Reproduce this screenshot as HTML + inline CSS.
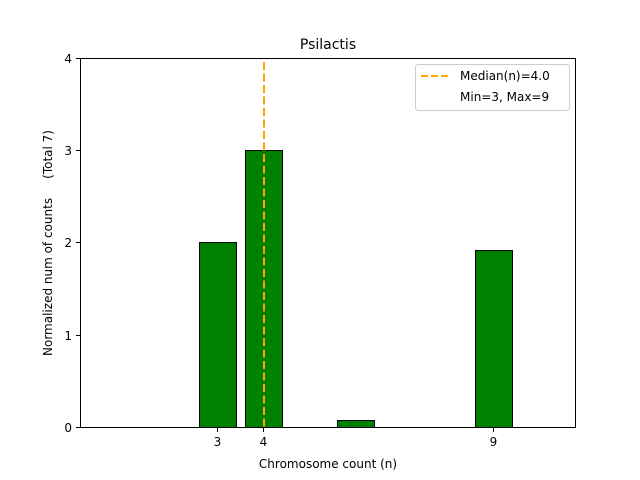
<!DOCTYPE html>
<html><head><meta charset="utf-8"><style>body{margin:0;background:#fff}svg{display:block}text{font-family:"DejaVu Sans","Liberation Sans",sans-serif;fill:#000}</style></head>
<body>
<svg width="640" height="480" viewBox="0 0 640 480">
<rect width="640" height="480" fill="#fff"/>
<g stroke="#000" stroke-width="1">
<rect x="199.5" y="242.5" width="37" height="185" fill="#008000"/>
<rect x="245.5" y="150.5" width="37" height="277" fill="#008000"/>
<rect x="337.5" y="420.5" width="37" height="7" fill="#008000"/>
<rect x="475.5" y="250.5" width="37" height="177" fill="#008000"/>
</g>
<line x1="264" y1="62" x2="264" y2="427" stroke="#ffa500" stroke-width="2" stroke-dasharray="8,3.5"/>
<rect x="80.5" y="58.5" width="495" height="369" fill="none" stroke="#000" stroke-width="1"/>
<g stroke="#000">
<line x1="76" y1="427.5" x2="80" y2="427.5"/><line x1="76" y1="335.5" x2="80" y2="335.5"/>
<line x1="76" y1="242.5" x2="80" y2="242.5"/><line x1="76" y1="150.5" x2="80" y2="150.5"/>
<line x1="76" y1="58.5" x2="80" y2="58.5"/>
<line x1="217.5" y1="428" x2="217.5" y2="432"/><line x1="263.5" y1="428" x2="263.5" y2="432"/>
<line x1="493.5" y1="428" x2="493.5" y2="432"/>
</g>
<g font-size="12" text-anchor="end">
<text x="72" y="432">0</text><text x="72" y="340">1</text><text x="72" y="247">2</text><text x="72" y="155">3</text><text x="72" y="63">4</text>
</g>
<g font-size="12" text-anchor="middle">
<text x="217.5" y="446">3</text><text x="263.5" y="446">4</text><text x="493.5" y="446">9</text>
<text x="328" y="468">Chromosome count (n)</text>
</g>
<text x="328" y="49" font-size="14" text-anchor="middle">Psilactis</text>
<text transform="translate(52,243) rotate(-90)" font-size="12" text-anchor="middle" style="white-space:pre">Normalized num of counts     (Total 7)</text>
<rect x="415.5" y="64.5" width="154" height="46" rx="3" fill="#fff" stroke="#ccc"/>
<line x1="421" y1="76" x2="449" y2="76" stroke="#ffa500" stroke-width="2" stroke-dasharray="7,3"/>
<text x="460" y="80" font-size="12">Median(n)=4.0</text>
<text x="460" y="101" font-size="12">Min=3, Max=9</text>
</svg>
</body></html>
